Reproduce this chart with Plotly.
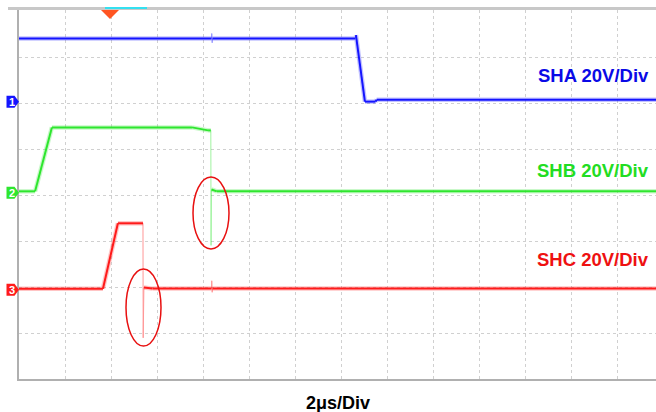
import plotly.graph_objects as go

# ---- data (time in microseconds, voltage in volts) ----
sha_t = [0.0, 8.37, 8.38, 8.40, 8.41, 14.62, 14.65, 15.04, 15.50, 15.55, 27.7]
sha_v = [27.0, 27.0, 29.2, 25.2, 27.0, 27.0, 28.5, -0.4, -0.4, 0.4, 0.4]

shb_t = [0.0, 0.70, 1.43, 7.52, 8.22, 8.34, 8.35, 8.37, 8.60, 27.7]
shb_v = [0.2, 0.2, 28.0, 28.0, 26.7, 26.7, -23.3, 1.0, 0.2, 0.2]

shc_t = [0.0, 3.65, 4.30, 5.39, 5.40, 5.43, 5.80, 8.37, 8.38, 8.40, 8.41, 27.7]
shc_v = [0.0, 0.0, 28.5, 28.5, -21.3, 0.6, 0.1, 0.1, 3.5, -1.5, 0.1, 0.1]

channel_names = ["SHA", "SHB", "SHC"]
channel_labels = ["SHA 20V/Div", "SHB 20V/Div", "SHC 20V/Div"]
volts_per_div = 20.0
time_label = "2μs/Div"

# ---- display settings ----
W, H = 656, 412
ML, MR, MT, MB = 19, 0, 10, 33
PW, PH = W - ML - MR, H - MT - MB
PX_PER_DIV = 46.0
US_PER_DIV = 2.0
x_max = PW / PX_PER_DIV * US_PER_DIV
y_max = PH / PX_PER_DIV

offsets = [6.05, 4.07, 1.96]          # ground position in divisions
colors = ["#1414ff", "#2ee62e", "#ff1a1a"]
text_colors = ["#0a0ae6", "#22dd22", "#ee1111"]
label_py = [76, 170, 259]
trigger_t = (110 - ML) / PX_PER_DIV * US_PER_DIV

fig = go.Figure()

def split(t, v, off):
    main_x, main_y, fast_x, fast_y = [], [], [], []
    y = [off + vv / volts_per_div for vv in v]
    for i in range(len(t) - 1):
        dt = t[i + 1] - t[i]
        if dt <= 0.031:
            fast_x += [t[i], t[i + 1], None]
            fast_y += [y[i], y[i + 1], None]
        else:
            main_x += [t[i], t[i + 1], None]
            main_y += [y[i], y[i + 1], None]
    return main_x, main_y, fast_x, fast_y

for data, off, col in zip([(sha_t, sha_v), (shb_t, shb_v), (shc_t, shc_v)], offsets, colors):
    mx, my, fx, fy = split(data[0], data[1], off)
    fig.add_trace(go.Scatter(x=mx, y=my, mode="lines", line=dict(color=col, width=4.5),
                             opacity=0.25, hoverinfo="skip", showlegend=False))
    fig.add_trace(go.Scatter(x=mx, y=my, mode="lines", line=dict(color=col, width=2),
                             hoverinfo="skip", showlegend=False))
    fig.add_trace(go.Scatter(x=fx, y=fy, mode="lines", line=dict(color=col, width=1),
                             opacity=0.45, hoverinfo="skip", showlegend=False))

shapes = []
# top bar
shapes.append(dict(type="line", xref="paper", yref="paper", x0=(8 - ML) / PW, x1=1.0,
                   y0=1 + 1.5 / PH, y1=1 + 1.5 / PH, line=dict(color="#c8c8c8", width=3)))
shapes.append(dict(type="line", xref="paper", yref="paper", x0=(105 - ML) / PW, x1=(147 - ML) / PW,
                   y0=1 + 2 / PH, y1=1 + 2 / PH, line=dict(color="#33e0f0", width=2)))
# trigger marker
hw = 9 / PX_PER_DIV * US_PER_DIV
shapes.append(dict(type="path", xref="x", yref="paper",
                   path=f"M {trigger_t - hw},1 L {trigger_t + hw},1 L {trigger_t},{1 - 9 / PH} Z",
                   fillcolor="#ff5522", line=dict(width=0)))
# channel ground markers
for i, (off, col) in enumerate(zip(offsets, colors)):
    x0 = (6.5 - ML) / PW
    x1 = (14.5 - ML) / PW
    x2 = (19 - ML) / PW
    h = 6 / PX_PER_DIV
    yc = off - 1 / PX_PER_DIV
    shapes.append(dict(type="path", xref="paper", yref="y",
                       path=f"M {x0},{yc + h} L {x1},{yc + h} L {x2},{yc} L {x1},{yc - h} L {x0},{yc - h} Z",
                       fillcolor=col, line=dict(width=0)))
# red ellipses
def px_to_t(px):
    return (px - ML) / PX_PER_DIV * US_PER_DIV
def py_to_d(py):
    return (MT + PH - py) / PX_PER_DIV
for (l, r, t_, b) in [(193, 229, 177, 249), (126, 161, 269, 346)]:
    shapes.append(dict(type="circle", xref="x", yref="y", x0=px_to_t(l), x1=px_to_t(r),
                       y0=py_to_d(b), y1=py_to_d(t_), line=dict(color="#e81010", width=1.5)))

annotations = []
for i, (off, tc) in enumerate(zip(offsets, text_colors)):
    annotations.append(dict(xref="paper", yref="y", x=(11.5 - ML) / PW, y=off - 1 / PX_PER_DIV,
                            text=f"<b>{i + 1}</b>", showarrow=False, xanchor="center", yanchor="middle",
                            font=dict(family="Liberation Sans", size=11, color="white")))
for lab, tc, py in zip(channel_labels, text_colors, label_py):
    annotations.append(dict(xref="paper", yref="paper", x=(651 - ML) / PW, y=(MT + PH - py) / PH,
                            text=f"<b>{lab}</b>", showarrow=False, xanchor="right", yanchor="middle",
                            font=dict(family="Liberation Sans", size=18.5, color=tc)))
annotations.append(dict(xref="paper", yref="paper", x=(337.5 - ML) / PW, y=(MT + PH - 403) / PH,
                        text=f"<b>{time_label}</b>", showarrow=False, xanchor="center", yanchor="middle",
                        font=dict(family="Liberation Sans", size=18, color="black")))

fig.update_layout(
    width=W, height=H, margin=dict(l=ML, r=MR, t=MT, b=MB),
    paper_bgcolor="white", plot_bgcolor="white",
    shapes=shapes, annotations=annotations, showlegend=False,
    xaxis=dict(range=[0, x_max], tick0=0, dtick=US_PER_DIV, showticklabels=False, ticks="",
               showgrid=True, gridcolor="#d0d0d0", griddash="dot", gridwidth=1,
               zeroline=False, showline=True, linecolor="#b0b0b0", linewidth=1.5, fixedrange=True),
    yaxis=dict(range=[0, y_max], tick0=0, dtick=1, showticklabels=False, ticks="",
               showgrid=True, gridcolor="#d0d0d0", griddash="dot", gridwidth=1,
               zeroline=False, showline=True, linecolor="#b0b0b0", linewidth=1.5, fixedrange=True),
)

fig.write_html("out.html", config={"displayModeBar": False})
